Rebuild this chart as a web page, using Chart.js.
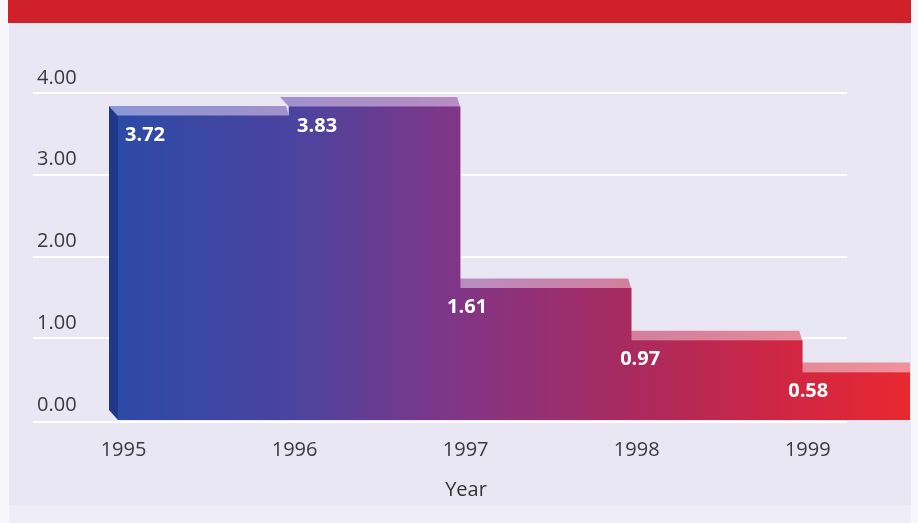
<!DOCTYPE html>
<html>
<head>
<meta charset="utf-8">
<script src="https://cdn.jsdelivr.net/npm/chart.js@4.4.1/dist/chart.umd.min.js"></script>
<style>
  html, body { margin: 0; padding: 0; }
  body { width: 918px; height: 523px; background: #f7f6fb; position: relative; overflow: hidden; font-family: "Open Sans", sans-serif; }
  .panel { position: absolute; left: 9px; top: 0; width: 902px; height: 505px; background: #e9e7f4; }
  .panel-low { position: absolute; left: 9px; top: 505px; width: 902px; height: 18px; background: #efedf8; }
  .banner { position: absolute; left: 8px; top: 0; width: 903px; height: 23px; background: #d0202a; }
  #chart { position: absolute; left: 0; top: 0; }
  .xtitle { position: absolute; left: 466px; top: 477px; transform: translateX(-50%); font-size: 20px; line-height: 24px; color: #333; }
</style>
</head>
<body>
<div class="panel"></div>
<div class="panel-low"></div>
<div class="banner"></div>
<canvas id="chart" width="918" height="523"></canvas>
<div class="xtitle">Year</div>
<script>
// data
const years  = [1995, 1996, 1997, 1998, 1999];
const values = [3.72, 3.83, 1.61, 0.97, 0.58];
const yTicks = [0, 1, 2, 3, 4];

// horizontal offset of each value label from its bar's left edge
const labelShift = [7, 8, -13, -11, -14];

const DEPTH_X = 9, DEPTH_Y = 10;

function hGradient(c, area, stops) {
  const g = c.createLinearGradient(area.left, 0, area.right, 0);
  stops.forEach(([p, col]) => g.addColorStop(p, col));
  return g;
}

const frontStops = [[0, '#2c4aa6'], [0.22, '#4a44a0'], [0.43, '#823586'], [0.65, '#aa2a5e'], [0.86, '#d32641'], [1, '#e8282f']];
const topStops   = [[0, '#8b97d6'], [0.43, '#b88cc2'], [0.65, '#d47e9c'], [1, '#f0919a']];

const faces3d = {
  id: 'faces3d',
  beforeDatasetsDraw(chart) {
    const { ctx: c, chartArea: area, scales: { y } } = chart;
    // white gridlines, wider than the plot on the left
    c.save();
    c.strokeStyle = '#ffffff';
    c.lineWidth = 2;
    yTicks.forEach(t => {
      const py = Math.round(y.getPixelForValue(t)) + (t === 0 ? 2 : 0);
      c.beginPath();
      c.moveTo(33, py);
      c.lineTo(847, py);
      c.stroke();
    });
    c.restore();

    const bars = chart.getDatasetMeta(0).data;
    c.save();
    c.beginPath();
    c.rect(0, 0, area.right, chart.height);
    c.clip();
    bars.forEach((bar, i) => {
      const left = bar.x - bar.width / 2;
      const right = bar.x + bar.width / 2;
      // top face
      c.fillStyle = hGradient(c, area, topStops);
      c.beginPath();
      c.moveTo(left, bar.y);
      c.lineTo(right, bar.y);
      c.lineTo(right - 3, bar.y - DEPTH_Y);
      c.lineTo(left - DEPTH_X, bar.y - DEPTH_Y);
      c.closePath();
      c.fill();
      // left side face, only the first bar shows it
      if (i === 0) {
        c.fillStyle = '#1f3889';
        c.beginPath();
        c.moveTo(left, bar.y);
        c.lineTo(left - DEPTH_X, bar.y - DEPTH_Y);
        c.lineTo(left - DEPTH_X, bar.base - DEPTH_Y);
        c.lineTo(left, bar.base);
        c.closePath();
        c.fill();
      }
    });
    c.restore();
  },
  afterDatasetsDraw(chart) {
    const { ctx: c } = chart;
    const bars = chart.getDatasetMeta(0).data;
    c.save();
    c.fillStyle = '#ffffff';
    c.font = 'bold 20px "Open Sans"';
    c.textAlign = 'left';
    c.textBaseline = 'top';
    bars.forEach((bar, i) => {
      const left = bar.x - bar.width / 2;
      c.fillText(values[i].toFixed(2), left + labelShift[i], bar.y + 9);
    });
    c.restore();
  }
};

new Chart(document.getElementById('chart'), {
  type: 'bar',
  data: {
    datasets: [{
      data: years.map((yr, i) => ({ x: yr, y: values[i] })),
      backgroundColor: (ctx) => {
        const area = ctx.chart.chartArea;
        if (!area) return '#7a3a8f';
        return hGradient(ctx.chart.ctx, area, frontStops);
      },
      borderWidth: 0,
      barPercentage: 1,
      categoryPercentage: 1,
    }],
  },
  options: {
    responsive: false,
    animation: false,
    devicePixelRatio: 1,
    layout: { padding: { left: 37, right: 8, top: 93, bottom: 43 } },
    plugins: { legend: { display: false }, tooltip: { enabled: false } },
    scales: {
      x: {
        type: 'linear',
        offset: false,
        min: 1994.5,
        max: 1999.13,
        afterBuildTicks: (scale) => { scale.ticks = years.map(v => ({ value: v })); },
        afterFit: (scale) => {
          scale.height = 60;
          scale.paddingLeft = 0;
          scale.paddingRight = 0;
        },
        grid: { display: false, drawTicks: false, offset: false },
        border: { display: false },
        ticks: {
          autoSkip: false,
          maxRotation: 0,
          padding: 18,
          labelOffset: -80,
          color: '#3a3a3a',
          font: { family: 'Open Sans', size: 20 },
          callback: (v) => String(v),
        },
      },
      y: {
        min: 0,
        max: 4,
        afterBuildTicks: (scale) => { scale.ticks = yTicks.map(v => ({ value: v })); },
        afterFit: (scale) => { scale.width = 81; },
        grid: { display: false, drawTicks: false },
        border: { display: false },
        ticks: {
          crossAlign: 'far',
          labelOffset: -15,
          color: '#3a3a3a',
          font: { family: 'Open Sans', size: 20 },
          callback: (v) => Number(v).toFixed(2),
        },
      },
    },
  },
  plugins: [faces3d],
});
</script>
</body>
</html>
